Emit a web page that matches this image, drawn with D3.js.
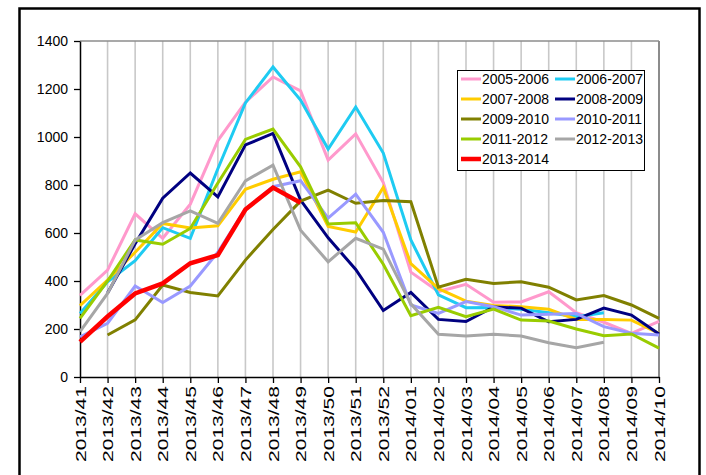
<!DOCTYPE html>
<html><head><meta charset="utf-8">
<script src="https://cdn.jsdelivr.net/npm/d3@7"></script>
<style>body{margin:0;background:#fff}svg{display:block}</style>
</head><body>
<script>
const weeks = ["2013/41","2013/42","2013/43","2013/44","2013/45","2013/46","2013/47","2013/48","2013/49","2013/50","2013/51","2013/52","2014/01","2014/02","2014/03","2014/04","2014/05","2014/06","2014/07","2014/08","2014/09","2014/10"];
const yTicks = [0,200,400,600,800,1000,1200,1400];
const s0506 = [340,445,680,578,720,985,1145,1250,1192,904,1013,810,437,356,386,311,313,355,268,228,182,232];
const s0607 = [265,397,485,622,578,868,1142,1292,1154,950,1125,933,571,342,289,290,282,268,251,268,null,null];
const s0708 = [297,404,520,640,621,630,782,824,855,627,604,790,472,368,316,298,293,282,240,240,237,182];
const s0809 = [null,350,555,745,850,750,967,1015,737,580,448,277,352,240,231,292,287,230,240,287,258,179];
const s0910 = [null,175,238,383,352,338,487,615,733,779,724,735,730,374,407,390,397,374,321,339,300,244];
const s1011 = [167,224,379,310,379,520,700,793,818,662,762,603,300,265,314,293,258,261,265,210,182,175];
const s1112 = [244,400,571,553,619,808,990,1033,876,638,643,470,255,290,251,283,237,233,200,172,179,120];
const s1213 = [189,348,571,643,692,640,817,883,612,480,578,533,305,178,171,178,171,143,122,145,null,null];
const s1314 = [146,252,348,390,474,508,698,789,726,null,null,null,null,null,null,null,null,null,null,null,null,null];
const seriesNames = ["2005-2006","2006-2007","2007-2008","2008-2009","2009-2010","2010-2011","2011-2012","2012-2013","2013-2014"];
const seriesData = [s0506,s0607,s0708,s0809,s0910,s1011,s1112,s1213,s1314];
const colors = ["#ff99cc","#1ecbf2","#ffcc00","#000080","#808000","#9999ff","#99cc00","#a6a6a6","#ff0000"];

const W=706,H=475;
const svg=d3.select("body").append("svg").attr("width",W).attr("height",H);
const L=80,R=659,T=41,B=377;
const x=d3.scalePoint().domain(weeks).range([L,R]);
const y=d3.scaleLinear().domain([0,1400]).range([B,T]);

// outer frame
svg.append("rect").attr("x",19.5).attr("y",8.5).attr("width",680).attr("height",490)
  .attr("fill","none").attr("stroke","#000").attr("stroke-width",2.5);

// vertical gridlines
svg.append("g").selectAll("line").data(weeks.slice(1)).join("line")
  .attr("x1",d=>x(d)).attr("x2",d=>x(d)).attr("y1",T).attr("y2",B)
  .attr("stroke",(d,i)=>i===weeks.length-2?"#8c8c8c":"#c8c8c8").attr("stroke-width",(d,i)=>i===weeks.length-2?2:1.6);
// top border
svg.append("line").attr("x1",L).attr("x2",R).attr("y1",T).attr("y2",T).attr("stroke","#8c8c8c").attr("stroke-width",1.5);

// axes
const ya=svg.append("g").attr("transform",`translate(${L},0)`)
  .call(d3.axisLeft(y).tickValues(yTicks).tickSize(6).tickSizeOuter(0).tickFormat(d3.format("d")));
ya.select(".domain").attr("stroke","#000").attr("stroke-width",1.5);
ya.selectAll(".tick line").attr("stroke","#000").attr("stroke-width",1.3);
ya.selectAll(".tick text").attr("font-family","Liberation Sans, Arial, sans-serif").attr("font-size","14px").attr("fill","#000").attr("x",-12);

const xa=svg.append("g").attr("transform",`translate(0,${B})`)
  .call(d3.axisBottom(x).tickSize(6).tickSizeOuter(0));
xa.select(".domain").attr("stroke","#000").attr("stroke-width",1.5);
xa.selectAll(".tick line").attr("stroke","#000").attr("stroke-width",1.3);
xa.selectAll(".tick text")
  .attr("font-family","Liberation Sans, Arial, sans-serif").attr("font-size","14px").attr("fill","#000")
  .attr("transform","rotate(-90)").attr("text-anchor","end").attr("x",-9).attr("y",0).attr("dy","0.36em")
  .attr("textLength",76).attr("lengthAdjust","spacingAndGlyphs");

// lines
const line=d3.line().defined(d=>d.v!=null).x(d=>x(d.w)).y(d=>y(d.v));
seriesData.forEach((arr,k)=>{
  svg.append("path").datum(arr.map((v,i)=>({w:weeks[i],v})))
    .attr("d",line).attr("fill","none").attr("stroke",colors[k])
    .attr("stroke-width",k===8?4.5:3).attr("stroke-linejoin","miter").attr("stroke-linecap","butt");
});

// legend
const lg=svg.append("g");
lg.append("rect").attr("x",457.5).attr("y",70.5).attr("width",187).attr("height",100)
  .attr("fill","#fff").attr("stroke","#000").attr("stroke-width",1);
seriesNames.forEach((n,k)=>{
  const col=k%2, row=Math.floor(k/2);
  const lx=col===0?461:555, ly=79+row*20;
  lg.append("line").attr("x1",lx).attr("x2",lx+20).attr("y1",ly).attr("y2",ly)
    .attr("stroke",colors[k]).attr("stroke-width",k===8?4.5:3);
  lg.append("text").attr("x",lx+21).attr("y",ly).attr("dy","0.36em")
    .attr("font-family","Liberation Sans, Arial, sans-serif").attr("font-size","14px").attr("fill","#000").text(n);
});
</script>
</body></html>
